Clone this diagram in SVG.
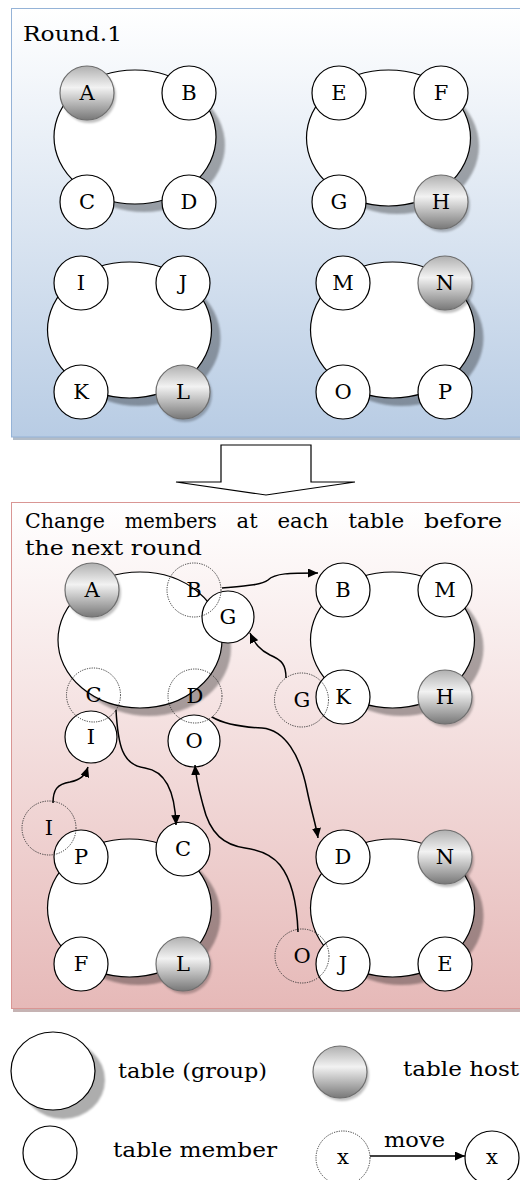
<svg xmlns="http://www.w3.org/2000/svg" width="520" height="1180" viewBox="0 0 520 1180">
<defs>
<linearGradient id="gBlue" x1="0" y1="0" x2="0" y2="1"><stop offset="0" stop-color="#ffffff"/><stop offset="1" stop-color="#b8cce4"/></linearGradient>
<linearGradient id="gRed" x1="0" y1="0" x2="0" y2="1"><stop offset="0" stop-color="#ffffff"/><stop offset="1" stop-color="#e6b9b8"/></linearGradient>
<linearGradient id="gHost" x1="0" y1="0" x2="0" y2="1"><stop offset="0" stop-color="#b0b0b0"/><stop offset="0.4" stop-color="#f2f2f2"/><stop offset="1" stop-color="#787878"/></linearGradient>
<filter id="blur" x="-20%" y="-20%" width="140%" height="140%"><feGaussianBlur stdDeviation="0.8"/></filter>
<filter id="blurS" x="-20%" y="-20%" width="140%" height="140%"><feGaussianBlur stdDeviation="1"/></filter>
<marker id="arr" markerUnits="userSpaceOnUse" markerWidth="10" markerHeight="9" refX="10" refY="4.5" orient="auto"><path d="M0,0 L10,4.5 L0,9 z" fill="#000"/></marker>
<style>
.tbl{fill:#fff;stroke:#000;stroke-width:1.2}
.tsh{fill:#000;fill-opacity:0.32;filter:url(#blur)}
.mem{fill:#fff;stroke:#000;stroke-width:1.2}
.host{fill:url(#gHost);stroke:#6e6e6e;stroke-width:1.2}
.hsh{fill:#000;fill-opacity:0.25;filter:url(#blurS)}
.dot{fill:none;stroke:#333;stroke-width:1;stroke-dasharray:1.2 1.2}
.lbl{font-family:"DejaVu Serif","Liberation Serif",serif;font-size:21px;fill:#000;text-anchor:middle}
.txt{font-family:"DejaVu Serif","Liberation Serif",serif;font-size:21px;fill:#000}
.con{fill:none;stroke:#000;stroke-width:1.5;marker-end:url(#arr)}
</style>
</defs>

<!-- panels -->
<g id="panel-round1">
<rect x="13" y="11" width="520" height="429" fill="#7f8fa3" fill-opacity="0.6"/>
<rect x="11.5" y="8.5" width="520" height="428.5" fill="url(#gBlue)" stroke="#95b3d7" stroke-width="1"/>
<text class="txt" x="23" y="41" textLength="99" lengthAdjust="spacingAndGlyphs">Round.1</text>
</g>

<g id="block-arrow">
<polygon points="221,445 311,445 311,482 355,482 266,495 176,482 221,482" fill="#fff" stroke="#000" stroke-width="1.2"/>
</g>

<g id="panel-next">
<rect x="13" y="505" width="520" height="507" fill="#a08080" fill-opacity="0.6"/>
<rect x="11.5" y="502.5" width="520" height="506" fill="url(#gRed)" stroke="#d99694" stroke-width="1"/>
<text class="txt" x="25" y="528" textLength="80" lengthAdjust="spacingAndGlyphs">Change</text>
<text class="txt" x="124.8" y="528" textLength="92" lengthAdjust="spacingAndGlyphs">members</text>
<text class="txt" x="236.6" y="528" textLength="21" lengthAdjust="spacingAndGlyphs">at</text>
<text class="txt" x="277.4" y="528" textLength="51" lengthAdjust="spacingAndGlyphs">each</text>
<text class="txt" x="348.2" y="528" textLength="56" lengthAdjust="spacingAndGlyphs">table</text>
<text class="txt" x="424" y="528" textLength="78" lengthAdjust="spacingAndGlyphs">before</text>
<text class="txt" x="25" y="555" textLength="177" lengthAdjust="spacingAndGlyphs">the next round</text>
</g>

<!-- Round 1 tables -->
<g id="table1">
<ellipse class="tsh" cx="144" cy="145" rx="81" ry="67"/>
<ellipse class="tbl" cx="135" cy="137" rx="81" ry="67"/>
</g>
<g id="A1"><circle class="hsh" cx="89" cy="96" r="27"/><circle class="host" cx="87" cy="93" r="27"/><text class="lbl" x="87" y="100">A</text></g>
<g id="B1"><circle class="mem" cx="189" cy="93" r="27"/><text class="lbl" x="189" y="100">B</text></g>
<g id="C1"><circle class="mem" cx="87" cy="202" r="27"/><text class="lbl" x="87" y="209">C</text></g>
<g id="D1"><circle class="mem" cx="189" cy="202" r="27"/><text class="lbl" x="189" y="209">D</text></g>

<g id="table2">
<ellipse class="tsh" cx="397" cy="146" rx="82" ry="68"/>
<ellipse class="tbl" cx="388.5" cy="138" rx="82" ry="68"/>
</g>
<g id="E1"><circle class="mem" cx="339" cy="93" r="27"/><text class="lbl" x="339" y="100">E</text></g>
<g id="F1"><circle class="mem" cx="441" cy="93" r="27"/><text class="lbl" x="441" y="100">F</text></g>
<g id="G1"><circle class="mem" cx="339" cy="202" r="27"/><text class="lbl" x="339" y="209">G</text></g>
<g id="H1"><circle class="hsh" cx="443" cy="205" r="27"/><circle class="host" cx="441" cy="202" r="27"/><text class="lbl" x="441" y="209">H</text></g>

<g id="table3">
<ellipse class="tsh" cx="138.5" cy="338" rx="82" ry="68"/>
<ellipse class="tbl" cx="129.5" cy="330" rx="82" ry="68"/>
</g>
<g id="I1"><circle class="mem" cx="81" cy="283" r="27"/><text class="lbl" x="81" y="290">I</text></g>
<g id="J1"><circle class="mem" cx="183" cy="283" r="27"/><text class="lbl" x="183" y="290">J</text></g>
<g id="K1"><circle class="mem" cx="81" cy="392" r="27"/><text class="lbl" x="81" y="399">K</text></g>
<g id="L1"><circle class="hsh" cx="185" cy="395" r="27"/><circle class="host" cx="183" cy="392" r="27"/><text class="lbl" x="183" y="399">L</text></g>

<g id="table4">
<ellipse class="tsh" cx="401.5" cy="338" rx="82" ry="68"/>
<ellipse class="tbl" cx="392.5" cy="330" rx="82" ry="68"/>
</g>
<g id="M1"><circle class="mem" cx="343" cy="283" r="27"/><text class="lbl" x="343" y="290">M</text></g>
<g id="N1"><circle class="hsh" cx="447" cy="286" r="27"/><circle class="host" cx="445" cy="283" r="27"/><text class="lbl" x="445" y="290">N</text></g>
<g id="O1"><circle class="mem" cx="343" cy="392" r="27"/><text class="lbl" x="343" y="399">O</text></g>
<g id="P1"><circle class="mem" cx="445" cy="392" r="27"/><text class="lbl" x="445" y="399">P</text></g>

<!-- Next round tables -->
<g id="table5">
<ellipse class="tsh" cx="149" cy="648" rx="82" ry="68"/>
<ellipse class="tbl" cx="140" cy="640" rx="82" ry="68"/>
</g>
<g id="A2"><circle class="hsh" cx="94" cy="593" r="27"/><circle class="host" cx="92" cy="590" r="27"/><text class="lbl" x="92" y="597">A</text></g>
<g id="G2"><circle class="mem" cx="228" cy="617" r="26"/><text class="lbl" x="228" y="624">G</text></g>
<g id="I2"><circle class="mem" cx="91" cy="737" r="26"/><text class="lbl" x="91" y="744">I</text></g>
<g id="O2"><circle class="mem" cx="194" cy="741" r="26"/><text class="lbl" x="194" y="748">O</text></g>

<g id="table6">
<ellipse class="tsh" cx="401.5" cy="648" rx="82" ry="68"/>
<ellipse class="tbl" cx="392.5" cy="640" rx="82" ry="68"/>
</g>
<g id="B2"><circle class="mem" cx="343" cy="590" r="27"/><text class="lbl" x="343" y="597">B</text></g>
<g id="M2"><circle class="mem" cx="445" cy="590" r="27"/><text class="lbl" x="445" y="597">M</text></g>
<g id="K2"><circle class="mem" cx="343" cy="697" r="27"/><text class="lbl" x="343" y="704">K</text></g>
<g id="H2"><circle class="hsh" cx="447" cy="700" r="27"/><circle class="host" cx="445" cy="697" r="27"/><text class="lbl" x="445" y="704">H</text></g>

<g id="table7">
<ellipse class="tsh" cx="138.5" cy="916" rx="82" ry="69"/>
<ellipse class="tbl" cx="129.5" cy="908" rx="82" ry="69"/>
</g>
<g id="P2"><circle class="mem" cx="81" cy="857" r="27"/><text class="lbl" x="81" y="864">P</text></g>
<g id="C2"><circle class="mem" cx="183" cy="849" r="27"/><text class="lbl" x="183" y="856">C</text></g>
<g id="F2"><circle class="mem" cx="81" cy="964" r="27"/><text class="lbl" x="81" y="971">F</text></g>
<g id="L2"><circle class="hsh" cx="185" cy="967" r="27"/><circle class="host" cx="183" cy="964" r="27"/><text class="lbl" x="183" y="971">L</text></g>

<g id="table8">
<ellipse class="tsh" cx="401.5" cy="916" rx="82" ry="69"/>
<ellipse class="tbl" cx="392.5" cy="908" rx="82" ry="69"/>
</g>
<g id="D2"><circle class="mem" cx="343" cy="857" r="27"/><text class="lbl" x="343" y="864">D</text></g>
<g id="N2"><circle class="hsh" cx="447" cy="860" r="27"/><circle class="host" cx="445" cy="857" r="27"/><text class="lbl" x="445" y="864">N</text></g>
<g id="J2"><circle class="mem" cx="343" cy="964" r="27"/><text class="lbl" x="343" y="971">J</text></g>
<g id="E2"><circle class="mem" cx="445" cy="964" r="27"/><text class="lbl" x="445" y="971">E</text></g>

<!-- previous positions (dotted) -->
<g id="B-old"><circle class="dot" cx="194" cy="590" r="27"/><text class="lbl" x="194" y="597">B</text></g>
<g id="C-old"><circle class="dot" cx="93.5" cy="695" r="27"/><text class="lbl" x="93.5" y="702">C</text></g>
<g id="D-old"><circle class="dot" cx="195" cy="696" r="27"/><text class="lbl" x="195" y="703">D</text></g>
<g id="G-old"><circle class="dot" cx="301.5" cy="700" r="27"/><text class="lbl" x="302" y="707">G</text></g>
<g id="I-old"><circle class="dot" cx="49" cy="828" r="27"/><text class="lbl" x="49" y="835">I</text></g>
<g id="O-old"><circle class="dot" cx="302" cy="956" r="27"/><text class="lbl" x="302" y="963">O</text></g>

<!-- connectors -->
<g id="connectors">
<path class="con" d="M222,588 C245,586 262,585 268,580 C275,573 290,573 318,573"/>
<path class="con" d="M286,678 C286,665 282,660 270,655 C260,650 255,644 250,633"/>
<path class="con" d="M116,710 C118,745 122,765 145,768 C165,771 175,790 176,825"/>
<path class="con" d="M212,717 C222,723 240,727 262,728 C285,730 300,755 307,790 C311,810 316,825 318,838"/>
<path class="con" d="M298,932 C297,905 292,880 280,865 C272,855 260,850 245,848 C225,845 210,835 203,805 C199,790 196,780 195,765"/>
<path class="con" d="M53,803 C53,790 57,784 70,782 C80,780 85,776 88,767"/>
<path class="con" d="M370,1156 L465,1156"/>
</g>

<!-- legend -->
<g id="legend-table">
<ellipse class="tsh" cx="63" cy="1080" rx="42" ry="39"/>
<ellipse class="tbl" cx="53" cy="1071" rx="42" ry="39"/>
<text class="txt" x="118" y="1078" textLength="149" lengthAdjust="spacingAndGlyphs">table (group)</text>
</g>
<g id="legend-host">
<ellipse class="hsh" cx="342" cy="1075" rx="27" ry="26"/>
<ellipse class="host" cx="340" cy="1072" rx="27" ry="26"/>
<text class="txt" x="403" y="1076" textLength="116" lengthAdjust="spacingAndGlyphs">table host</text>
</g>
<g id="legend-member">
<circle class="mem" cx="50" cy="1153" r="27"/>
<text class="txt" x="113" y="1157" textLength="164" lengthAdjust="spacingAndGlyphs">table member</text>
</g>
<g id="legend-move">
<circle class="dot" cx="343" cy="1158" r="27"/>
<text class="lbl" x="343" y="1164">x</text>
<circle class="mem" cx="492" cy="1158" r="27"/>
<text class="lbl" x="492" y="1164">x</text>
<text class="txt" x="384" y="1147" textLength="61" lengthAdjust="spacingAndGlyphs">move</text>
</g>
</svg>
